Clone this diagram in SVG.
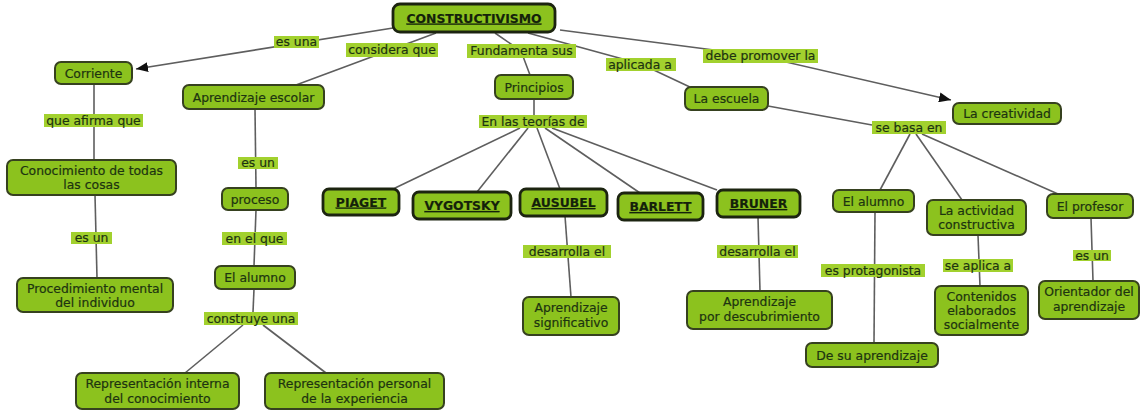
<svg xmlns="http://www.w3.org/2000/svg" width="1141" height="411" viewBox="0 0 1141 411">
<defs>
<style>
.n rect{fill:#8cc21e;stroke:#36411f;stroke-width:2;}
.t rect{fill:#8cc21e;stroke:#1c2410;stroke-width:2.8;}
.n text,.t text{font-family:"DejaVu Sans",Verdana,sans-serif;font-size:12.4px;fill:#1d3410;stroke:#1d3410;stroke-width:0.2;text-anchor:middle;}
.t text{font-weight:bold;text-decoration:underline;fill:#14210a;}
.l rect{fill:#a2d12e;stroke:none;}
.l text{font-family:"DejaVu Sans",Verdana,sans-serif;font-size:12.4px;fill:#1d3410;stroke:#1d3410;stroke-width:0.2;text-anchor:middle;}
.c line,.c polyline{stroke:#5e5e5e;stroke-width:1.6;fill:none;}
</style>
<marker id="ah" viewBox="0 0 12 10" refX="12" refY="5" markerWidth="12" markerHeight="10" markerUnits="userSpaceOnUse" orient="auto">
<path d="M0,0 L12,5 L0,10 z" fill="#111"/>
</marker>
</defs>
<rect width="1141" height="411" fill="#fff"/>
<g id="connectors" class="c">
<line x1="393" y1="28" x2="136" y2="69" marker-end="url(#ah)"/>
<line x1="436" y1="33" x2="296" y2="85"/>
<polyline points="495,33 521,51 530,75"/>
<polyline points="528,33 641,64 692,88"/>
<polyline points="560,30 760,56 951,100" marker-end="url(#ah)"/>
<line x1="534" y1="99" x2="534" y2="115"/>
<line x1="520" y1="128" x2="393" y2="189"/>
<line x1="528" y1="128" x2="477" y2="192"/>
<line x1="537" y1="128" x2="560" y2="189"/>
<line x1="545" y1="128" x2="640" y2="193"/>
<line x1="552" y1="128" x2="717" y2="190"/>
<line x1="768" y1="106" x2="872" y2="125"/>
<line x1="910" y1="134" x2="880" y2="190"/>
<line x1="916" y1="134" x2="962" y2="200"/>
<line x1="922" y1="134" x2="1058" y2="194"/>
<line x1="875" y1="212" x2="874" y2="343"/>
<line x1="978" y1="235" x2="980" y2="286"/>
<line x1="1091" y1="218" x2="1093" y2="281"/>
<line x1="94" y1="84" x2="94" y2="160"/>
<line x1="95" y1="195" x2="97" y2="278"/>
<line x1="255" y1="109" x2="256" y2="188"/>
<line x1="256" y1="210" x2="254" y2="266"/>
<line x1="254" y1="289" x2="253" y2="312"/>
<line x1="243" y1="325" x2="185" y2="373"/>
<line x1="263" y1="325" x2="326" y2="373"/>
<line x1="565" y1="216" x2="571" y2="297"/>
<line x1="758" y1="217" x2="760" y2="291"/>
</g>
<g id="lbl-es-una" class="l"><rect x="274" y="36" width="45" height="12"/><text x="296.5" y="46">es una</text></g>
<g id="lbl-considera" class="l"><rect x="346" y="43" width="92" height="14"/><text x="392" y="54">considera que</text></g>
<g id="lbl-fundamenta" class="l"><rect x="467" y="44" width="109" height="14"/><text x="521.5" y="55">Fundamenta sus</text></g>
<g id="lbl-aplicada" class="l"><rect x="606" y="58" width="70" height="13"/><text x="640" y="68.5">aplicada a</text></g>
<g id="lbl-debe" class="l"><rect x="703" y="49" width="115" height="14"/><text x="760.5" y="60">debe promover la</text></g>
<g id="lbl-teorias" class="l"><rect x="479" y="115" width="108" height="13"/><text x="533" y="125.5">En las teorías de</text></g>
<g id="lbl-basa" class="l"><rect x="872" y="121" width="74" height="13"/><text x="909" y="131.5">se basa en</text></g>
<g id="lbl-afirma" class="l"><rect x="44" y="114" width="99" height="13"/><text x="93.5" y="124.5">que afirma que</text></g>
<g id="lbl-es-un-1" class="l"><rect x="71" y="232" width="41" height="12"/><text x="91.5" y="242">es un</text></g>
<g id="lbl-es-un-2" class="l"><rect x="238" y="157" width="40" height="12"/><text x="258" y="167">es un</text></g>
<g id="lbl-en-el-que" class="l"><rect x="222" y="232" width="65" height="13"/><text x="254.5" y="242.5">en el que</text></g>
<g id="lbl-construye" class="l"><rect x="204" y="312" width="94" height="13"/><text x="251" y="322.5">construye una</text></g>
<g id="lbl-desarrolla-1" class="l"><rect x="523" y="245" width="88" height="13"/><text x="567" y="255.5">desarrolla el</text></g>
<g id="lbl-desarrolla-2" class="l"><rect x="717" y="245" width="81" height="13"/><text x="757.5" y="255.5">desarrolla el</text></g>
<g id="lbl-protagonista" class="l"><rect x="821" y="264" width="104" height="13"/><text x="873" y="274.5">es protagonista</text></g>
<g id="lbl-aplica" class="l"><rect x="943" y="259" width="70" height="13"/><text x="978" y="269.5">se aplica a</text></g>
<g id="lbl-es-un-3" class="l"><rect x="1073" y="250" width="38" height="11"/><text x="1092" y="259.5">es un</text></g>
<g id="constructivismo" class="t"><rect x="393" y="4" width="162" height="28" rx="7"/><text x="474" y="22.5">CONSTRUCTIVISMO</text></g>
<g id="corriente" class="n"><rect x="55" y="62" width="77" height="22" rx="6"/><text x="93.5" y="77.5">Corriente</text></g>
<g id="aprendizaje-escolar" class="n"><rect x="183" y="85" width="141" height="24" rx="6"/><text x="253.5" y="101.5">Aprendizaje escolar</text></g>
<g id="principios" class="n"><rect x="495" y="75" width="78" height="24" rx="6"/><text x="534" y="91.5">Principios</text></g>
<g id="la-escuela" class="n"><rect x="685" y="87" width="83" height="23" rx="6"/><text x="726.5" y="103">La escuela</text></g>
<g id="la-creatividad" class="n"><rect x="953" y="103" width="108" height="21" rx="6"/><text x="1007" y="118">La creatividad</text></g>
<g id="conocimiento" class="n"><rect x="7" y="160" width="169" height="35" rx="6"/><text x="91.5" y="175">Conocimiento de todas</text><text x="91.5" y="189">las cosas</text></g>
<g id="procedimiento" class="n"><rect x="17" y="278" width="156" height="34" rx="6"/><text x="95" y="292.5">Procedimiento mental</text><text x="95" y="306.5">del individuo</text></g>
<g id="proceso" class="n"><rect x="222" y="188" width="66" height="22" rx="6"/><text x="255" y="203.5">proceso</text></g>
<g id="el-alumno-1" class="n"><rect x="215" y="266" width="80" height="23" rx="6"/><text x="255" y="282">El alumno</text></g>
<g id="rep-interna" class="n"><rect x="76" y="373" width="163" height="36" rx="6"/><text x="157.5" y="388">Representación interna</text><text x="157.5" y="402.5">del conocimiento</text></g>
<g id="rep-personal" class="n"><rect x="265" y="373" width="179" height="36" rx="6"/><text x="354.5" y="388">Representación personal</text><text x="354.5" y="402.5">de la experiencia</text></g>
<g id="piaget" class="t"><rect x="323" y="189" width="76" height="26" rx="6"/><text x="361" y="206.5">PIAGET</text></g>
<g id="vygotsky" class="t"><rect x="413" y="192" width="98" height="27" rx="6"/><text x="462" y="210">VYGOTSKY</text></g>
<g id="ausubel" class="t"><rect x="520" y="189" width="87" height="27" rx="6"/><text x="563.5" y="207">AUSUBEL</text></g>
<g id="barlett" class="t"><rect x="618" y="193" width="85" height="27" rx="6"/><text x="660.5" y="211">BARLETT</text></g>
<g id="bruner" class="t"><rect x="717" y="190" width="83" height="27" rx="6"/><text x="758.5" y="208">BRUNER</text></g>
<g id="aprendizaje-significativo" class="n"><rect x="523" y="297" width="96" height="38" rx="6"/><text x="571" y="312">Aprendizaje</text><text x="571" y="326.5">significativo</text></g>
<g id="aprendizaje-descubrimiento" class="n"><rect x="687" y="291" width="145" height="38" rx="6"/><text x="759.5" y="306">Aprendizaje</text><text x="759.5" y="320.5">por descubrimiento</text></g>
<g id="el-alumno-2" class="n"><rect x="833" y="190" width="81" height="22" rx="6"/><text x="873.5" y="205.5">El alumno</text></g>
<g id="actividad" class="n"><rect x="927" y="200" width="99" height="35" rx="6"/><text x="976.5" y="215">La actividad</text><text x="976.5" y="229">constructiva</text></g>
<g id="el-profesor" class="n"><rect x="1047" y="194" width="86" height="24" rx="6"/><text x="1090" y="210.5">El profesor</text></g>
<g id="de-su-aprendizaje" class="n"><rect x="806" y="343" width="132" height="24" rx="6"/><text x="872" y="359.5">De su aprendizaje</text></g>
<g id="contenidos" class="n"><rect x="935" y="286" width="93" height="49" rx="6"/><text x="981.5" y="301">Contenidos</text><text x="981.5" y="315">elaborados</text><text x="981.5" y="329">socialmente</text></g>
<g id="orientador" class="n"><rect x="1039" y="281" width="100" height="38" rx="6"/><text x="1089" y="296">Orientador del</text><text x="1089" y="310.5">aprendizaje</text></g>
</svg>
